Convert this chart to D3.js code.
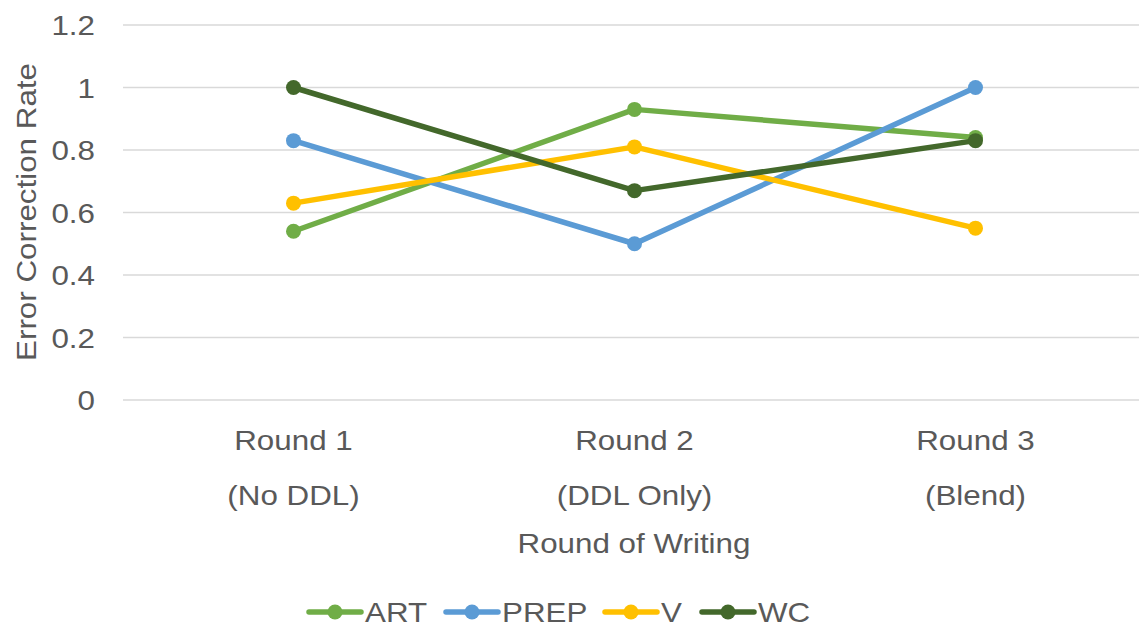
<!DOCTYPE html>
<html>
<head>
<meta charset="utf-8">
<script src="https://cdn.jsdelivr.net/npm/d3@7"></script>
<style>
  body { margin: 0; background: #fff; }
  text { font-family: "Liberation Sans", Arial, sans-serif; fill: #595959; font-size: 28px; }
</style>
</head>
<body>
<div id="chart"></div>
<script>
// data
const rounds = ["Round 1", "Round 2", "Round 3"];
const roundNotes = ["(No DDL)", "(DDL Only)", "(Blend)"];
const seriesNames = ["ART", "PREP", "V", "WC"];
const artValues = [0.54, 0.93, 0.84];
const prepValues = [0.83, 0.5, 1.0];
const vValues = [0.63, 0.81, 0.55];
const wcValues = [1.0, 0.67, 0.83];
const yTicks = [0, 0.2, 0.4, 0.6, 0.8, 1, 1.2];

const colors = ["#70AD47", "#5B9BD5", "#FFC000", "#43682B"];
const allValues = [artValues, prepValues, vValues, wcValues];

const width = 1139, height = 628;
const margin = { top: 25, left: 123, plotW: 1023, bottom: 400 };
// the reference font is a little wider than Liberation Sans
const sx = 1.12;

const svg = d3
  .select("#chart")
  .append("svg")
  .attr("width", width)
  .attr("height", height);

const x = d3
  .scaleBand()
  .domain(rounds)
  .range([margin.left, margin.left + margin.plotW]);
const cx = (i) => x(rounds[i]) + x.bandwidth() / 2;

const y = d3.scaleLinear().domain([0, 1.2]).range([margin.bottom, margin.top]);

// gridlines
svg
  .append("g")
  .selectAll("line")
  .data(yTicks)
  .join("line")
  .attr("x1", margin.left)
  .attr("x2", margin.left + margin.plotW)
  .attr("y1", (d) => y(d))
  .attr("y2", (d) => y(d))
  .attr("stroke", "#D9D9D9")
  .attr("stroke-width", 1.5);

// y axis labels
svg
  .append("g")
  .selectAll("text")
  .data(yTicks)
  .join("text")
  .attr("transform", (d) => `translate(95,${y(d)}) scale(${sx},1)`)
  .attr("dy", "0.36em")
  .attr("text-anchor", "end")
  .text((d) => d3.format("")(d));

// x axis labels
const xl = svg.append("g");
xl.selectAll("text.r")
  .data(rounds)
  .join("text")
  .attr("class", "r")
  .attr("transform", (d, i) => `translate(${cx(i)},450) scale(${sx},1)`)
  .attr("text-anchor", "middle")
  .text((d) => d);
xl.selectAll("text.n")
  .data(roundNotes)
  .join("text")
  .attr("class", "n")
  .attr("transform", (d, i) => `translate(${cx(i)},505) scale(${sx},1)`)
  .attr("text-anchor", "middle")
  .text((d) => d);

// axis titles
svg
  .append("text")
  .attr("transform", `translate(634,553) scale(${sx},1)`)
  .attr("text-anchor", "middle")
  .text("Round of Writing");

svg
  .append("text")
  .attr("transform", `translate(36,212) rotate(-90) scale(${sx},1)`)
  .attr("text-anchor", "middle")
  .text("Error Correction Rate");

// lines
const line = d3
  .line()
  .x((d, i) => cx(i))
  .y((d) => y(d));

const series = svg
  .append("g")
  .selectAll("g")
  .data(allValues)
  .join("g");

series
  .append("path")
  .attr("d", (d) => line(d))
  .attr("fill", "none")
  .attr("stroke", (d, i) => colors[i])
  .attr("stroke-width", 5.5)
  .attr("stroke-linejoin", "round")
  .attr("stroke-linecap", "round");

series.each(function (vals, i) {
  d3.select(this)
    .selectAll("circle")
    .data(vals)
    .join("circle")
    .attr("cx", (d, j) => cx(j))
    .attr("cy", (d) => y(d))
    .attr("r", 7.5)
    .attr("fill", colors[i]);
});

// legend
const legendX = [309, 446, 605, 702];
const legend = svg
  .append("g")
  .selectAll("g")
  .data(seriesNames)
  .join("g")
  .attr("transform", (d, i) => `translate(${legendX[i]},612)`);

legend
  .append("line")
  .attr("x1", 0)
  .attr("x2", 52)
  .attr("stroke", (d, i) => colors[i])
  .attr("stroke-width", 5.5)
  .attr("stroke-linecap", "round");
legend
  .append("circle")
  .attr("cx", 26)
  .attr("r", 7.5)
  .attr("fill", (d, i) => colors[i]);
legend
  .append("text")
  .attr("transform", `translate(56,0) scale(${sx},1)`)
  .attr("dy", "0.36em")
  .text((d) => d);
</script>
</body>
</html>
